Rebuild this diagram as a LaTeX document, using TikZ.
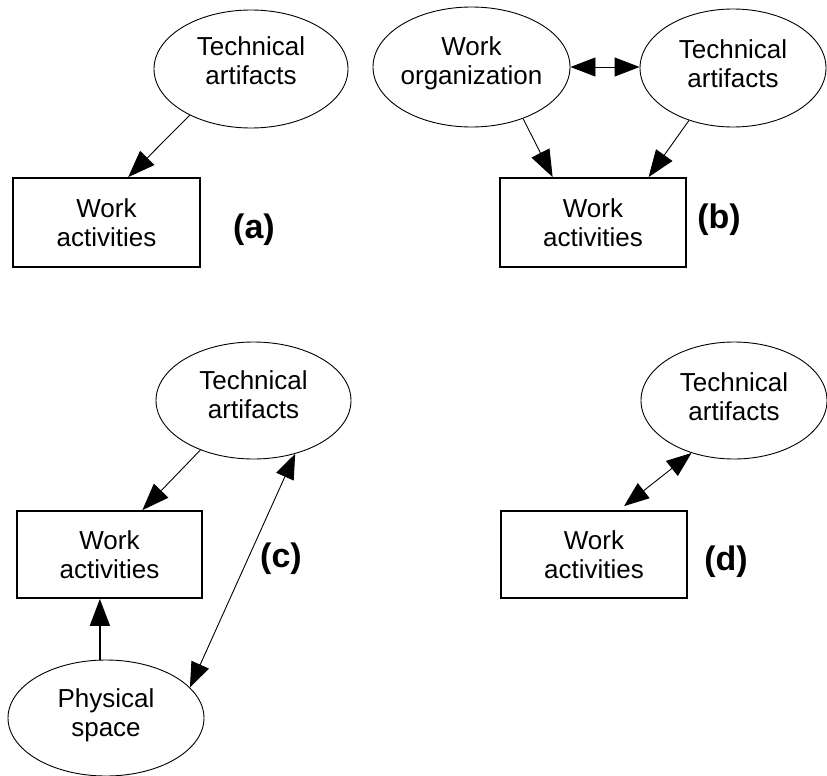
\documentclass[tikz,border=0pt]{standalone}
\usepackage{fontspec}
\setmainfont{Liberation Sans}
\usetikzlibrary{shapes.geometric,arrows.meta,calc}
\begin{document}
\begin{tikzpicture}[x=1pt,y=-1pt,
  ell/.style={draw,ellipse,line width=0.9pt,inner sep=0pt},
  lbl/.style={align=center,font=\fontsize{26}{29}\selectfont,inner sep=0pt},
  box/.style={draw,rectangle,line width=1.8pt,inner sep=0pt,align=center,font=\fontsize{26}{29}\selectfont},
  tag/.style={font=\fontsize{34}{36}\selectfont\bfseries,inner sep=0pt},
  tip/.style={Triangle[length=27pt,width=20pt]},
  arr/.style={-{Triangle[length=27pt,width=20pt]},line width=0.9pt},
  darr/.style={{Triangle[length=25pt,width=19pt]}-{Triangle[length=25pt,width=19pt]},line width=0.9pt},
]
\useasboundingbox (0,0) rectangle (827,776);

% (a)
\node[ell,minimum width=194pt,minimum height=118pt] (taA) at (251,69) {};
\node[lbl] (taAt) at (251,61) {Technical\\artifacts};
\node[box,minimum width=187pt,minimum height=89pt] (wa) at (106.5,222.5) {Work\\activities};
\node[tag] (la) at (254,230) {(a)};
\draw[arr] (taA.217) -- ($(wa.north west)!0.615!(wa.north east)$);

% (b)
\node[ell,minimum width=197pt,minimum height=120pt] (wo) at (471.5,67) {};
\node[lbl] (wot) at (471.5,63) {Work\\organization};
\node[ell,minimum width=186pt,minimum height=118pt] (tb) at (733,68) {};
\node[lbl] (tbt) at (733,64) {Technical\\artifacts};
\node[box,minimum width=186pt,minimum height=89pt] (wb) at (593,222.5) {Work\\activities};
\node[tag] (lb) at (719,220) {(b)};
\draw[darr] (wo.east) -- (wo.east -| tb.west);
\draw[arr] (wo.315) -- ($(wb.north west)!0.285!(wb.north east)$);
\draw[arr] (tb.230) -- ($(wb.north west)!0.796!(wb.north east)$);

% (c)
\node[ell,minimum width=195pt,minimum height=117pt] (tc) at (253.5,400.5) {};
\node[lbl] (tct) at (253.5,395) {Technical\\artifacts};
\node[box,minimum width=185pt,minimum height=87pt] (wc) at (109.5,554.5) {Work\\activities};
\node[ell,minimum width=196pt,minimum height=116pt] (ps) at (106,718) {};
\node[lbl] (pst) at (106,715) {Physical\\space};
\node[tag] (lc) at (281,559) {(c)};
\draw[arr] (tc.223) -- ($(wc.north west)!0.676!(wc.north east)$);
\draw[darr] (tc.308) -- (ps.20);
\draw[arr,line width=1.8pt] (ps.96) -- (ps.96 |- wc.south);

% (d)
\node[ell,minimum width=186pt,minimum height=117pt] (td) at (734,400.5) {};
\node[lbl] (tdt) at (734,397) {Technical\\artifacts};
\node[box,minimum width=186pt,minimum height=87pt] (wd) at (594,554.5) {Work\\activities};
\node[tag] (ld) at (726,562) {(d)};
\draw[darr] (td.231) -- ($(wd.north west)!0.66!(wd.north east)+(0,-4)$);
\end{tikzpicture}
\end{document}
